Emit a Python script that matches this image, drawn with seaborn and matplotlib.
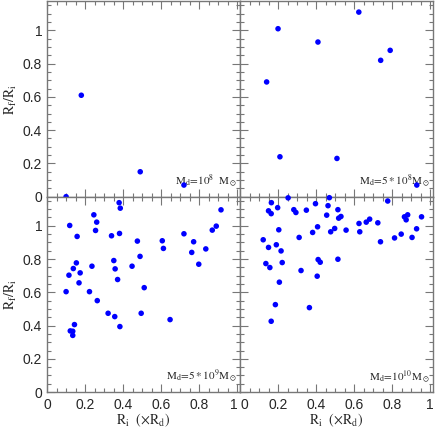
import pandas as pd
import matplotlib.pyplot as plt
import seaborn as sns
from matplotlib.ticker import MultipleLocator

# Values
# panel 1: M_d = 1e8
x_1e8 = [0.10, 0.18, 0.49, 0.72]
y_1e8 = [0.00, 0.61, 0.15, 0.07]

# panel 2: M_d = 5e8
x_5e8 = [0.14, 0.20, 0.21, 0.41, 0.51, 0.625, 0.74, 0.79, 0.93]
y_5e8 = [0.69, 1.01, 0.24, 0.93, 0.23, 1.11, 0.82, 0.88, 0.07]

# panel 3: M_d = 5e9
x_5e9 = [0.379, 0.385, 0.915, 0.246, 0.119, 0.261, 0.890, 0.255, 0.869, 0.158,
         0.339, 0.381, 0.720, 0.475, 0.606, 0.771, 0.612, 0.835, 0.761, 0.489,
         0.351, 0.154, 0.798, 0.447, 0.236, 0.138, 0.358, 0.174, 0.115, 0.371,
         0.168, 0.511, 0.100, 0.223, 0.264, 0.321, 0.495, 0.356, 0.647, 0.144,
         0.383, 0.122, 0.135, 0.135]
y_5e9 = [1.139, 1.106, 1.096, 1.066, 1.002, 1.022, 0.998, 0.972, 0.974, 0.936,
         0.940, 0.954, 0.952, 0.908, 0.910, 0.904, 0.864, 0.861, 0.840, 0.816,
         0.791, 0.777, 0.769, 0.757, 0.757, 0.743, 0.741, 0.717, 0.703, 0.677,
         0.657, 0.628, 0.604, 0.604, 0.550, 0.474, 0.474, 0.454, 0.436, 0.406,
         0.394, 0.368, 0.366, 0.341]

# panel 4: M_d = 1e10
x_1e10 = [0.165, 0.397, 0.777, 0.198, 0.283, 0.294, 0.349, 0.463, 0.515, 0.150,
          0.164, 0.456, 0.531, 0.519, 0.882, 0.865, 0.874, 0.955, 0.682, 0.664,
          0.626, 0.725, 0.408, 0.204, 0.558, 0.498, 0.477, 0.382, 0.630, 0.929,
          0.848, 0.311, 0.813, 0.905, 0.122, 0.739, 0.150, 0.191, 0.216, 0.136,
          0.222, 0.157, 0.411, 0.422, 0.515, 0.321, 0.207, 0.406, 0.186, 0.365,
          0.164, 0.253, 0.470]
y_1e10 = [1.139, 1.133, 1.149, 1.109, 1.097, 1.080, 1.094, 1.121, 1.097, 1.090,
          1.073, 1.064, 1.056, 1.046, 1.066, 1.054, 1.036, 1.054, 1.040, 1.022,
          1.014, 1.018, 0.994, 0.976, 0.974, 0.984, 0.964, 0.960, 0.964, 0.982,
          0.950, 0.930, 0.927, 0.930, 0.916, 0.904, 0.870, 0.886, 0.849, 0.773,
          0.779, 0.749, 0.797, 0.781, 0.799, 0.731, 0.661, 0.697, 0.526, 0.508,
          0.426, 1.168, 1.169]

labels = [r'$\mathrm{M_d\!=\!10^8\ \ M_\odot}$',
          r'$\mathrm{M_d\!=\!5*10^8M_\odot}$',
          r'$\mathrm{M_d\!=\!5*10^9M_\odot}$',
          r'$\mathrm{M_d\!=\!10^{10}M_\odot}$']

panels = [(x_1e8, y_1e8), (x_5e8, y_5e8), (x_5e9, y_5e9), (x_1e10, y_1e10)]

sns.set_style('ticks')
plt.rcParams['font.family'] = ['Liberation Sans', 'DejaVu Sans']
plt.rcParams['mathtext.fontset'] = 'stix'

fig, axes = plt.subplots(2, 2, figsize=(4.36, 4.29), dpi=100, sharex=True, sharey=True)
fig.subplots_adjust(left=0.108, right=0.993, bottom=0.086, top=0.997, wspace=0, hspace=0)

for i, ax in enumerate(axes.flat):
    px, py = panels[i]
    df = pd.DataFrame({'x': px, 'y': py})
    sns.scatterplot(data=df, x='x', y='y', ax=ax, color='#0000ff', s=16,
                    edgecolor='none', clip_on=False, zorder=5)
    ax.set_xlim(0, 1.015)
    ax.set_ylim(0, 1.175)
    ax.xaxis.set_major_locator(MultipleLocator(0.2))
    ax.xaxis.set_minor_locator(MultipleLocator(0.05))
    ax.yaxis.set_major_locator(MultipleLocator(0.2))
    ax.yaxis.set_minor_locator(MultipleLocator(0.05))
    ax.xaxis.set_major_formatter(plt.FuncFormatter(lambda v, p: '%g' % round(v, 2)))
    ax.yaxis.set_major_formatter(plt.FuncFormatter(lambda v, p: '%g' % round(v, 2)))
    ax.tick_params(which='both', direction='in', top=True, right=True,
                   color='#777777', labelsize=10, labelfontfamily='Liberation Sans')
    ax.tick_params(which='major', length=6, width=0.8)
    ax.tick_params(which='minor', length=3, width=0.8)
    ax.tick_params(axis='x', pad=4)
    for sp in ax.spines.values():
        sp.set_color('#777777')
        sp.set_linewidth(1.0)
    ax.set_xlabel('')
    ax.set_ylabel('')
    ax.text(0.985, 0.035, labels[i], transform=ax.transAxes, ha='right', va='bottom',
            fontsize=8)

for ax in axes[:, 0]:
    ax.set_ylabel(r'$\mathrm{R_f/R_i}$', fontsize=10, labelpad=3)
for ax in axes[1, :]:
    ax.set_xlabel(r'$\mathrm{R_i\ \ (\times R_d)}$', fontsize=10, labelpad=0)

# keep "1" and "0" apart where the two bottom panels meet
fig.canvas.draw()
for t in axes[1, 0].get_xticklabels():
    if t.get_text() == '1':
        t.set_ha('right')
for t in axes[1, 1].get_xticklabels():
    if t.get_text() == '0':
        t.set_ha('left')

fig.savefig('out.png', dpi=100)
